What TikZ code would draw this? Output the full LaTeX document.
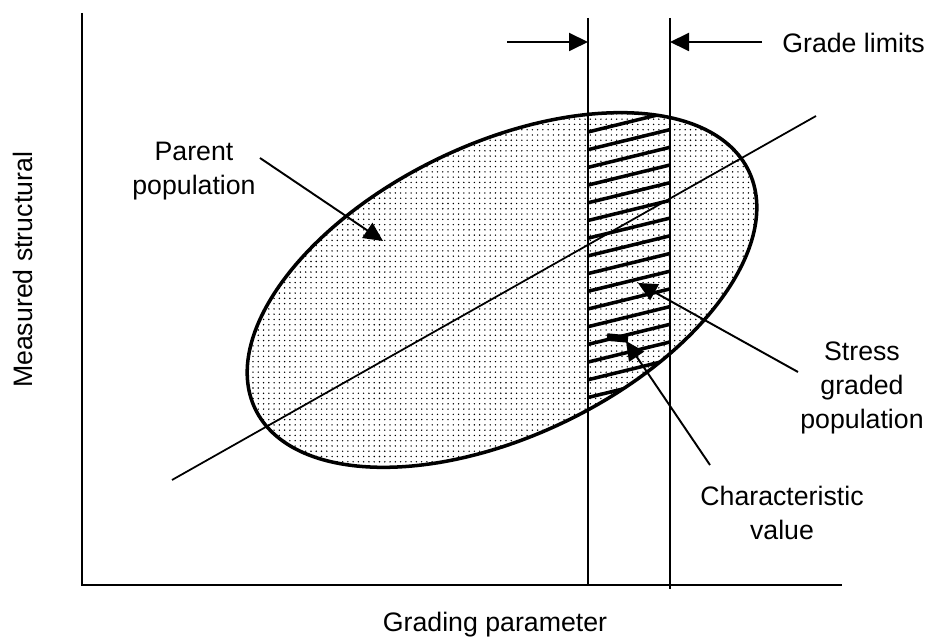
\documentclass[tikz,border=0pt]{standalone}
\usepackage{fontspec}
\setmainfont{Liberation Sans}
\usetikzlibrary{arrows.meta, patterns.meta}

\begin{document}
\begin{tikzpicture}[x=0.02cm, y=-0.02cm, >={Triangle[length=0.38cm, width=0.36cm]},
        every node/.style={font=\fontsize{15.2}{19.5}\selectfont, inner sep=0pt, align=center},
        axis/.style={line width=1.4pt},
        limit/.style={line width=1.1pt},
        pointer/.style={->, line width=1.1pt},
        popu/.style={rotate around={25.75:(502,290)}}]
        \useasboundingbox (0,0) rectangle (927,641);

        % parent population, dotted
        \fill[popu, pattern={Dots[radius=0.45pt, distance=3pt]}] (502,290) ellipse [x radius=5.48cm, y radius=2.92cm];
        % stress graded part, hatched
        \begin{scope}
            \clip[popu] (502,290) ellipse [x radius=5.48cm, y radius=2.92cm];
            \clip (588,0) rectangle (670,641);
            \foreach \k in {0,...,17}
                \draw[line width=2pt] (570,{136.4+17.7*\k}) -- (690,{107+17.7*\k});
        \end{scope}
        \draw[popu, line width=2pt] (502,290) ellipse [x radius=5.48cm, y radius=2.92cm];

        \draw[axis] (82,13) |- (842,585);
        \draw[limit] (588,18) -- (588,585);
        \draw[limit] (670,18) -- (670,589);
        \draw[line width=1pt] (172,480) -- (816,116);

        \node (grade) [anchor=west] at (782,43) {Grade limits};
        \node (parent) at (194,171) {Parent\\population};
        \node (stress) at (862,388) {Stress\\graded\\population};
        \node (charv) at (782,513) {Characteristic\\value};
        \node (ylab) [rotate=90] at (23,270) {Measured structural};
        \node (xlab) at (495,625) {Grading parameter};

        \coordinate (g1) at (507,42);
        \coordinate (g1tip) at (588,42);
        \coordinate (g2) at (762,42);
        \coordinate (g2tip) at (670,42);
        \coordinate (p1) at (260,158);
        \coordinate (p1tip) at (383,241);
        \coordinate (s1) at (798,372);
        \coordinate (s1tip) at (638,283);
        \coordinate (c1) at (710,465);
        \coordinate (c1tip) at (626,341);

        \draw[pointer] (g1) -- (g1tip);
        \draw[pointer] (g2) -- (g2tip);
        \draw[pointer] (p1) -- (p1tip);
        \draw[pointer] (s1) -- (s1tip);
        \draw[pointer] (c1) -- (c1tip);
        % characteristic value mark
        \draw[line width=0.15cm] (607,337) -- (628,339);
    \end{tikzpicture}
\end{document}
